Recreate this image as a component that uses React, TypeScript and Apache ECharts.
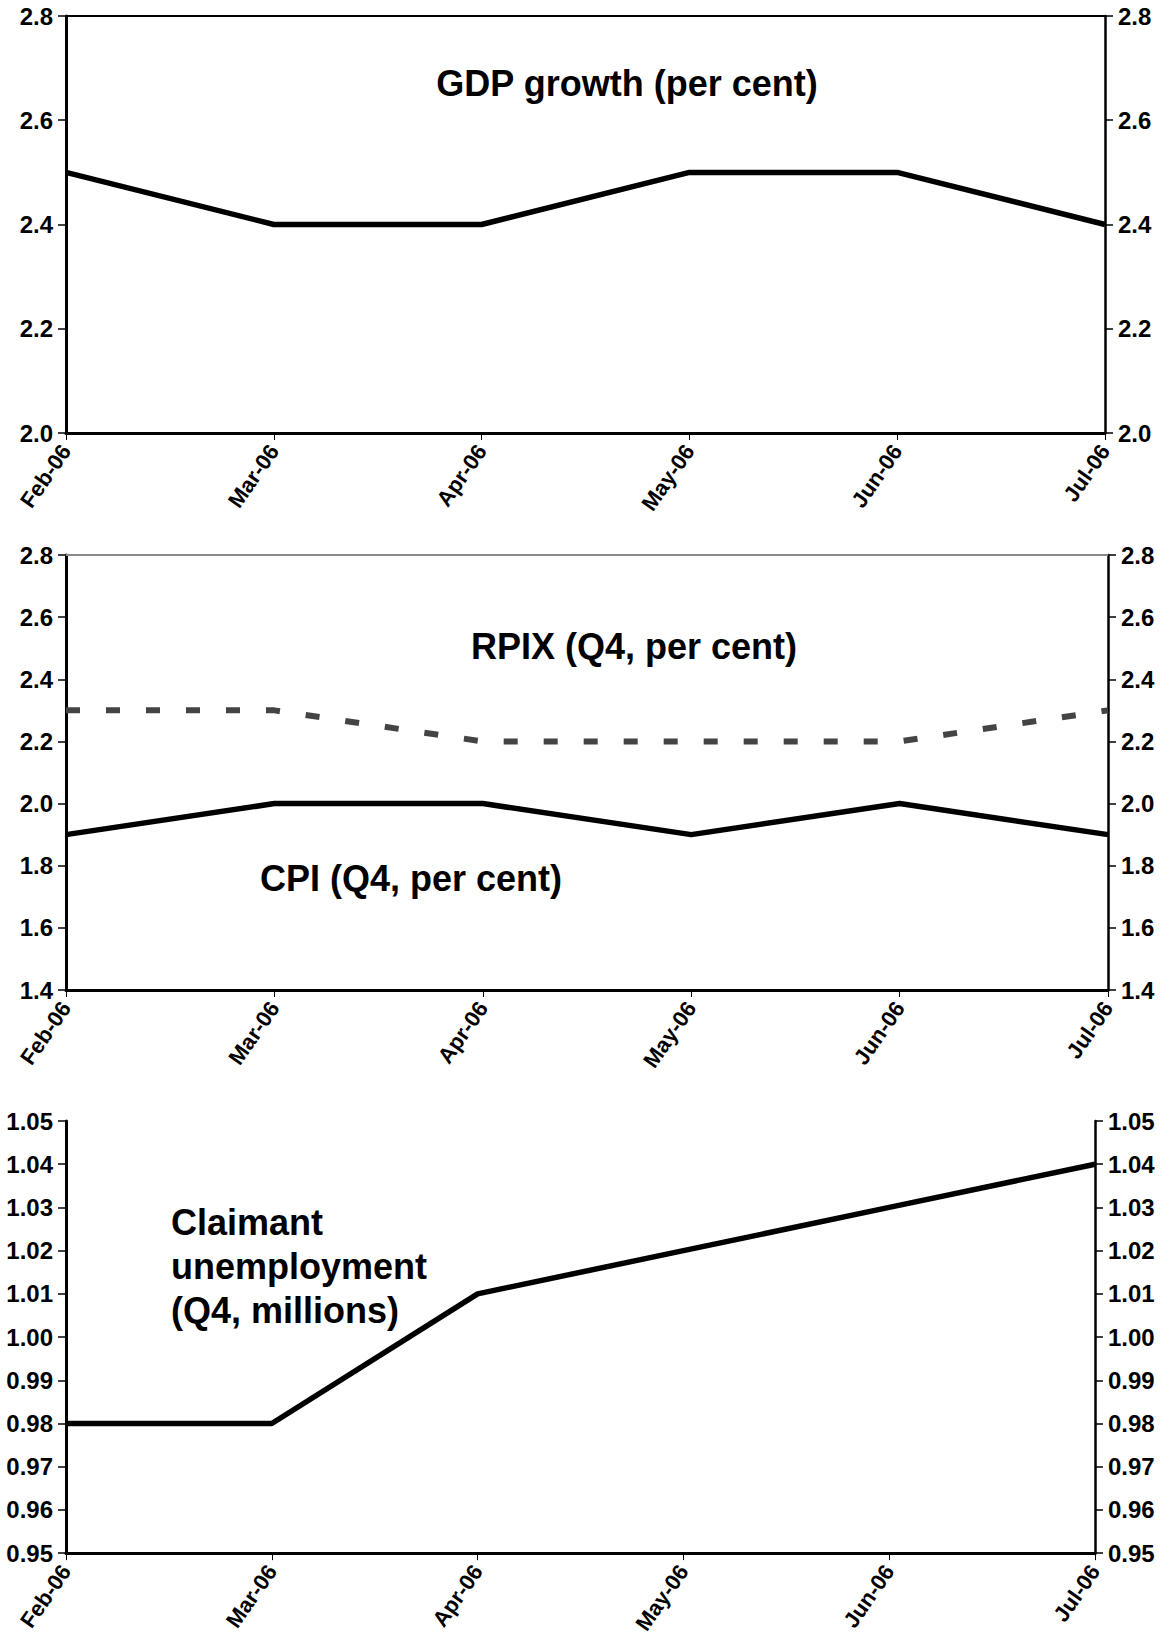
import React, { useEffect, useRef } from "react";
import * as echarts from "echarts";

const categories = ["Feb-06", "Mar-06", "Apr-06", "May-06", "Jun-06", "Jul-06"];
const gdpGrowth = [2.5, 2.4, 2.4, 2.5, 2.5, 2.4];
const rpix = [2.3, 2.3, 2.2, 2.2, 2.2, 2.3];
const cpi = [1.9, 2.0, 2.0, 1.9, 2.0, 1.9];
const claimant = [0.98, 0.98, 1.01, 1.02, 1.03, 1.04];

// [min, max, interval, decimals]
const gdpAxis = [2.0, 2.8, 0.2, 1];
const inflationAxis = [1.4, 2.8, 0.2, 1];
const claimantAxis = [0.95, 1.05, 0.01, 2];

const FONT = '"Liberation Sans", Arial, sans-serif';

export default function App() {
  const ref = useRef<HTMLDivElement>(null);

  useEffect(() => {
    if (!ref.current) return;
    const chart = echarts.init(ref.current, null, { renderer: "svg" });

    const grids = [
      { left: 66, top: 16, width: 1039, height: 417 },
      { left: 66, top: 555, width: 1042, height: 435 },
      { left: 66, top: 1121, width: 1029, height: 433 },
    ];
    const axes = [gdpAxis, inflationAxis, claimantAxis];
    const topLine = ["#000000", "#8a8a8a", null];

    const xAxis: any[] = [];
    const yAxis: any[] = [];
    grids.forEach((g, i) => {
      xAxis.push({
        type: "category",
        gridIndex: i,
        data: categories,
        boundaryGap: false,
        position: "bottom",
        axisLine: { show: true, lineStyle: { color: "#000", width: 3 } },
        axisTick: { show: true, length: 7, lineStyle: { color: "#000", width: 1 } },
        axisLabel: {
          rotate: 55,
          margin: 14,
          fontFamily: FONT,
          fontWeight: "bold",
          fontSize: 22,
          color: "#000",
          interval: 0,
        },
        splitLine: { show: false },
      });
      if (topLine[i]) {
        xAxis.push({
          type: "category",
          gridIndex: i,
          data: categories,
          boundaryGap: false,
          position: "top",
          axisLine: { show: true, lineStyle: { color: topLine[i], width: 2 } },
          axisTick: { show: false },
          axisLabel: { show: false },
          splitLine: { show: false },
        });
      }
      const [mn, mx, iv, dec] = axes[i];
      ["left", "right"].forEach((pos) => {
        yAxis.push({
          type: "value",
          gridIndex: i,
          position: pos,
          min: mn,
          max: mx,
          interval: iv,
          axisLine: {
            show: true,
            onZero: false,
            lineStyle: { color: "#000", width: pos === "left" ? 3 : 2.5 },
          },
          axisTick: { show: true, inside: false, length: 8, lineStyle: { color: "#000", width: 1.5 } },
          axisLabel: {
            margin: 13,
            fontFamily: FONT,
            fontWeight: "bold",
            fontSize: 24,
            color: "#000",
            formatter: (v: number) => v.toFixed(dec as number),
          },
          splitLine: { show: false },
        });
      });
    });

    const option: any = {
      animation: false,
      backgroundColor: "#ffffff",
      grid: grids,
      xAxis,
      yAxis,
      series: [
        {
          type: "line",
          xAxisIndex: 0,
          yAxisIndex: 0,
          data: gdpGrowth,
          showSymbol: false,
          lineStyle: { color: "#000", width: 5.5 },
          z: 1,
        },
        {
          type: "line",
          xAxisIndex: 2,
          yAxisIndex: 2,
          data: rpix,
          showSymbol: false,
          lineStyle: { color: "#444444", width: 6, type: [14, 26] },
          z: 1,
        },
        {
          type: "line",
          xAxisIndex: 2,
          yAxisIndex: 2,
          data: cpi,
          showSymbol: false,
          lineStyle: { color: "#000", width: 5.5 },
          z: 1,
        },
        {
          type: "line",
          xAxisIndex: 4,
          yAxisIndex: 4,
          data: claimant,
          showSymbol: false,
          lineStyle: { color: "#000", width: 5.5 },
          z: 1,
        },
      ],
      graphic: [
        {
          type: "text",
          x: 627,
          y: 83,
          style: {
            text: "GDP growth (per cent)",
            font: `bold 36px ${FONT}`,
            fill: "#000",
            align: "center",
            verticalAlign: "middle",
          },
        },
        {
          type: "text",
          x: 634,
          y: 646,
          style: {
            text: "RPIX (Q4, per cent)",
            font: `bold 36px ${FONT}`,
            fill: "#000",
            align: "center",
            verticalAlign: "middle",
          },
        },
        {
          type: "text",
          x: 411,
          y: 878,
          style: {
            text: "CPI (Q4, per cent)",
            font: `bold 36px ${FONT}`,
            fill: "#000",
            align: "center",
            verticalAlign: "middle",
          },
        },
        {
          type: "text",
          x: 171,
          y: 1200,
          style: {
            text: "Claimant\nunemployment\n(Q4, millions)",
            font: `bold 36px ${FONT}`,
            lineHeight: 44,
            fill: "#000",
            align: "left",
            verticalAlign: "top",
          },
        },
      ],
    };

    chart.setOption(option);
    return () => chart.dispose();
  }, []);

  return (
    <div
      ref={ref}
      style={{ position: "absolute", left: 0, top: 0, width: 1165, height: 1637, background: "#fff" }}
    />
  );
}
